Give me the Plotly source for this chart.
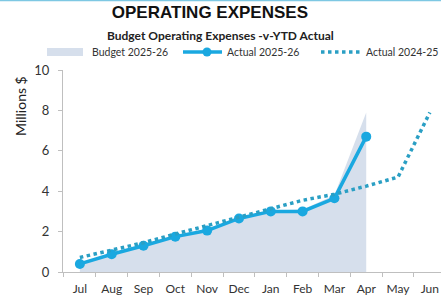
import plotly.graph_objects as go

months = ["Jul", "Aug", "Sep", "Oct", "Nov", "Dec", "Jan", "Feb", "Mar", "Apr", "May", "Jun"]
budget_2025_26 = [0.45, 0.9, 1.35, 1.8, 2.15, 2.7, 3.05, 3.1, 3.8, 7.9]
actual_2025_26 = [0.4, 0.88, 1.3, 1.75, 2.05, 2.65, 3.0, 3.0, 3.65, 6.7]
actual_2024_25 = [0.72, 1.08, 1.45, 1.88, 2.3, 2.75, 3.17, 3.55, 3.85, 4.25, 4.7, 7.9]
legend_names = ["Budget 2025-26", "Actual 2025-26", "Actual 2024-25"]

C_BUDGET = "#D6DFEC"
C_ACT = "#1AA8E0"
C_PREV = "#2A9FC4"

PLOT_L, PLOT_T, PLOT_B = 63, 70, 272
PLOT_H = PLOT_B - PLOT_T
PLOT_W = 441 - PLOT_L


def py(pix_y):
    return (PLOT_B - pix_y) / PLOT_H


def px(pix_x):
    return (pix_x - PLOT_L) / PLOT_W


fig = go.Figure()
fig.add_trace(go.Scatter(
    x=months[:len(budget_2025_26)], y=budget_2025_26, name=legend_names[0],
    mode="lines", fill="tozeroy", line=dict(width=0, color=C_BUDGET),
    fillcolor=C_BUDGET))
fig.add_trace(go.Scatter(
    x=months[:len(actual_2025_26)], y=actual_2025_26, name=legend_names[1],
    mode="lines+markers", line=dict(width=3.5, color=C_ACT),
    marker=dict(size=10, color=C_ACT)))
fig.add_trace(go.Scatter(
    x=months, y=actual_2024_25, name=legend_names[2],
    mode="lines", line=dict(width=3.5, color=C_PREV, dash="dot")))

# manual legend (swatches + labels) laid out above the plot
LEG_Y = 52
legend_shapes = [
    dict(type="rect", xref="paper", yref="paper", x0=px(47), x1=px(83),
         y0=py(56), y1=py(48), fillcolor=C_BUDGET, line=dict(width=0)),
    dict(type="line", xref="paper", yref="paper", x0=px(183), x1=px(222),
         y0=py(LEG_Y), y1=py(LEG_Y), line=dict(color=C_ACT, width=3.5)),
    dict(type="circle", xref="paper", yref="paper", x0=px(202.5), x1=px(211.5),
         y0=py(LEG_Y + 4.5), y1=py(LEG_Y - 4.5), fillcolor=C_ACT, line=dict(width=0)),
    dict(type="line", xref="paper", yref="paper", x0=px(321), x1=px(362),
         y0=py(LEG_Y), y1=py(LEG_Y), line=dict(color=C_PREV, width=3.5, dash="dot")),
]
legend_text_pos = [(90, "left"), (225, "left"), (440, "right")]
legend_annots = [
    dict(text=name, xref="paper", yref="paper", x=px(tx), y=py(LEG_Y),
         xanchor=anc, yanchor="middle", showarrow=False,
         font=dict(family="Lato", size=10.5, color="#333333"))
    for name, (tx, anc) in zip(legend_names, legend_text_pos)
]

fig.update_layout(
    width=441, height=300,
    margin=dict(l=PLOT_L, r=0, t=PLOT_T, b=300 - PLOT_B, autoexpand=False),
    paper_bgcolor="white", plot_bgcolor="white",
    font=dict(family="Lato", size=12, color="#333333"),
    title=dict(text="<b>OPERATING EXPENSES</b>", x=0.476, xanchor="center",
               y=0.96, yanchor="middle",
               font=dict(family="Liberation Sans", size=17, color="#111111")),
    showlegend=False,
    annotations=[
        dict(text="<b>Budget Operating Expenses -v-YTD Actual</b>", xref="paper", yref="paper",
             x=px(220), y=py(35), xanchor="center", yanchor="middle",
             showarrow=False, font=dict(family="Lato", size=12, color="#222222")),
        dict(text="Millions $", xref="paper", yref="paper", x=px(20), xanchor="center",
             y=py(106), yanchor="middle", textangle=-90, showarrow=False,
             font=dict(family="Lato", size=14, color="#222222")),
    ] + legend_annots,
    shapes=[dict(type="line", xref="paper", yref="paper", x0=px(0), x1=px(441),
                 y0=py(0.5), y1=py(0.5),
                 line=dict(color="#7EC8E3", width=1.5))] + legend_shapes,
)
fig.update_xaxes(type="category", categoryorder="array", categoryarray=months,
                 range=[-0.53, 11.35], showgrid=False, showline=True, automargin=False,
                 linecolor="#BFBFBF", linewidth=1, ticks="outside", tickson="boundaries",
                 tickcolor="#BFBFBF", ticklen=4, tickangle=0, ticklabelstandoff=6,
                 tickfont=dict(size=12, color="#333333"))
fig.update_yaxes(range=[0, 10], dtick=2, showgrid=False, showline=True, automargin=False,
                 linecolor="#BFBFBF", linewidth=1, ticks="outside", tickcolor="#BFBFBF",
                 ticklen=4, zeroline=False, ticklabelstandoff=6,
                 tickfont=dict(size=13, color="#333333"))

fig.write_html("out.html", config={"displayModeBar": False},
               post_script="document.body.style.margin='0';document.body.style.overflow='hidden';")
